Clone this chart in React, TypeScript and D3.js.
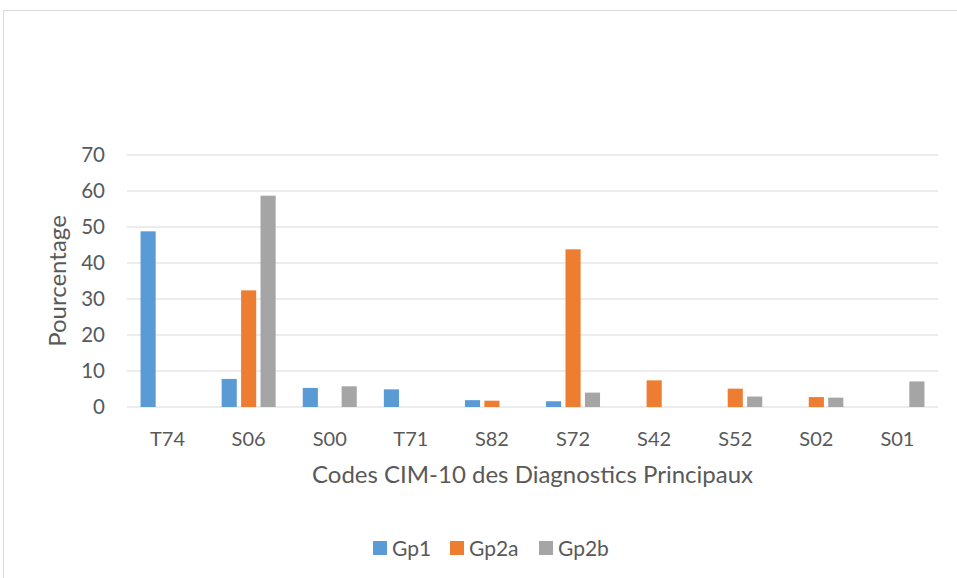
import React, { useRef, useEffect } from 'react';
import * as d3 from 'd3';

const categories = ['T74', 'S06', 'S00', 'T71', 'S82', 'S72', 'S42', 'S52', 'S02', 'S01'];
const seriesNames = ['Gp1', 'Gp2a', 'Gp2b'];
const gp1 = [48.8, 7.8, 5.3, 4.9, 1.9, 1.6, 0, 0, 0, 0];
const gp2a = [0, 32.4, 0, 0, 1.75, 43.8, 7.4, 5.1, 2.75, 0];
const gp2b = [0, 58.7, 5.75, 0, 0, 4.0, 0, 2.9, 2.6, 7.1];
const yTicks = [0, 10, 20, 30, 40, 50, 60, 70];
const colors = ['#5b9bd5', '#ed7d31', '#a5a5a5'];

const App = () => {
  const svgRef = useRef<SVGSVGElement>(null);

  useEffect(() => {
    const width = 957;
    const height = 578;
    const margin = { top: 155, right: 19, bottom: 171, left: 127 };
    const font = 'Lato, "Open Sans", sans-serif';
    const textColor = '#595959';

    const svg = d3.select(svgRef.current);
    svg.selectAll('*').remove();
    svg.attr('width', width).attr('height', height);

    // chart area border
    svg.append('rect')
      .attr('x', 3.5).attr('y', 10.5)
      .attr('width', 970).attr('height', 600)
      .attr('fill', '#fff')
      .attr('stroke', '#d9d9d9');

    const chartWidth = width - margin.left - margin.right;
    const chartHeight = height - margin.top - margin.bottom;
    const g = svg.append('g').attr('transform', `translate(${margin.left},${margin.top})`);

    const x0 = d3.scaleBand().domain(categories).range([0, chartWidth]);
    const x1 = d3.scaleBand().domain(seriesNames).range([0, 54]).paddingInner(4 / 18);
    const y = d3.scaleLinear().domain([0, 70]).range([chartHeight, 0]);

    // gridlines
    g.selectAll('.grid')
      .data(yTicks)
      .join('line')
      .attr('x1', 0).attr('x2', chartWidth)
      .attr('y1', d => y(d)).attr('y2', d => y(d))
      .attr('stroke', '#d9d9d9')
      .attr('stroke-width', 1.2);

    // y tick labels
    g.selectAll('.ytick')
      .data(yTicks)
      .join('text')
      .attr('x', -22)
      .attr('y', d => y(d))
      .attr('dy', '0.36em')
      .attr('text-anchor', 'end')
      .style('font-family', font)
      .style('font-size', '20.5px')
      .style('fill', textColor)
      .text(d => d);

    const series = [gp1, gp2a, gp2b];
    const groups = g.selectAll('.cat')
      .data(categories)
      .join('g')
      .attr('transform', d => `translate(${(x0(d) || 0) + x0.bandwidth() / 2 - 27},0)`);

    groups.selectAll('rect')
      .data((d, i) => seriesNames.map((s, k) => ({ s, k, v: series[k][i] })).filter(e => e.v > 0))
      .join('rect')
      .attr('x', d => x1(d.s) || 0)
      .attr('width', x1.bandwidth())
      .attr('y', d => y(d.v))
      .attr('height', d => chartHeight - y(d.v))
      .attr('fill', d => colors[d.k]);

    // x tick labels
    g.selectAll('.xtick')
      .data(categories)
      .join('text')
      .attr('x', d => (x0(d) || 0) + x0.bandwidth() / 2)
      .attr('y', chartHeight + 39)
      .attr('text-anchor', 'middle')
      .style('font-family', font)
      .style('font-size', '20px')
      .style('fill', textColor)
      .text(d => d);

    // axis titles
    g.append('text')
      .attr('x', chartWidth / 2)
      .attr('y', chartHeight + 76)
      .attr('text-anchor', 'middle')
      .style('font-family', font)
      .style('font-size', '24px')
      .style('fill', textColor)
      .text('Codes CIM-10 des Diagnostics Principaux');

    svg.append('text')
      .attr('transform', `translate(66,281) rotate(-90)`)
      .attr('text-anchor', 'middle')
      .style('font-family', font)
      .style('font-size', '24px')
      .style('fill', textColor)
      .text('Pourcentage');

    // legend
    const legendX = [373, 450, 539];
    const legend = svg.selectAll('.legend')
      .data(seriesNames)
      .join('g')
      .attr('transform', (d, i) => `translate(${legendX[i]},556)`);
    legend.append('rect')
      .attr('x', 0).attr('y', -15)
      .attr('width', 14).attr('height', 14)
      .attr('fill', (d, i) => colors[i]);
    legend.append('text')
      .attr('x', 19)
      .attr('y', 0)
      .style('font-family', font)
      .style('font-size', '21px')
      .style('fill', textColor)
      .text(d => d);
  }, []);

  return (
    <div style={{ position: 'absolute', left: 0, top: 0 }}>
      <svg ref={svgRef} style={{ display: 'block' }} />
    </div>
  );
};

export default App;
